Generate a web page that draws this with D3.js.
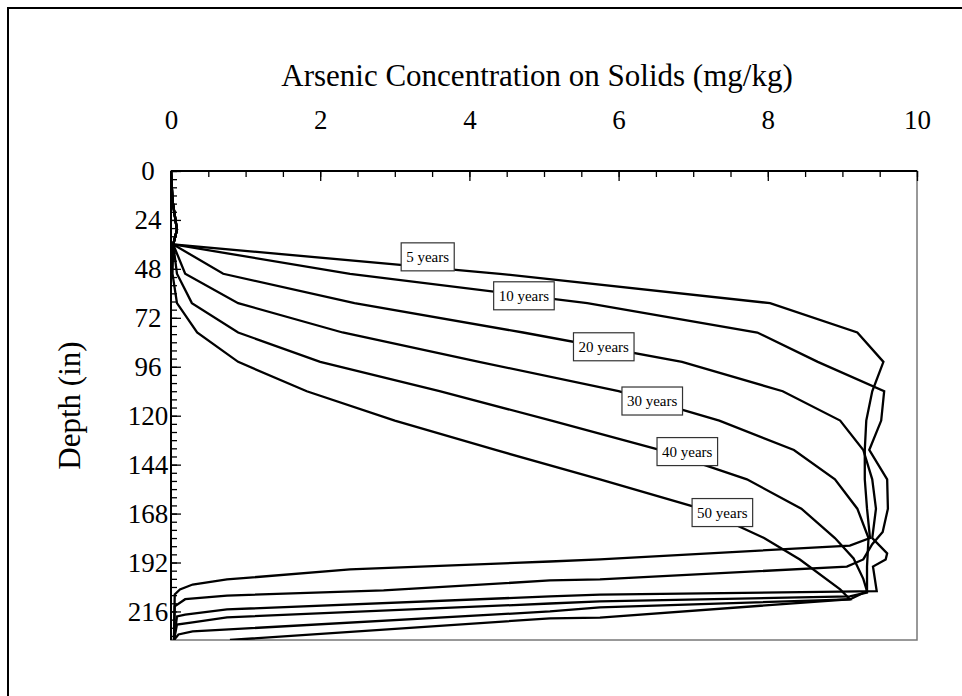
<!DOCTYPE html>
<html>
<head>
<meta charset="utf-8">
<script src="https://cdn.jsdelivr.net/npm/d3@7/dist/d3.min.js"></script>
<style>
body { margin: 0; background: #fff; }
svg { display: block; }
</style>
</head>
<body>
<div id="chart"></div>
<script>
// concentration (mg/kg) by depth (in), one array per simulated time
var xTicks = [0, 2, 4, 6, 8, 10];
var yTicks = [0, 24, 48, 72, 96, 120, 144, 168, 192, 216];
var seriesNames = ["5 years", "10 years", "20 years", "30 years", "40 years", "50 years"];

var yr5 = [[0,0],[0.02,14.4],[0.08,28.8],[0.03,36],[4.41,50.4],[8.03,64.8],[9.2,79.2],[9.55,93.6],
  [9.4,108],[9.32,122.4],[9.3,136.8],[9.3,151.2],[9.33,165.6],[9.37,180],[9.1,183.7],[5.75,190.5],
  [5.08,191.5],[2.4,195.4],[0.75,200.3],[0.29,202.8],[0.12,205.2],[0.05,207.7],[0.04,230]];
var yr10 = [[0,0],[0.02,14.4],[0.08,28.8],[0.03,36],[2.4,50.4],[5.58,64.8],[7.86,79.2],[8.67,93.6],
  [9.56,108],[9.52,122.4],[9.36,136.8],[9.6,151.2],[9.61,165.6],[9.54,177],[9.4,183],[9.28,190.5],
  [9.06,194],[5.75,200.3],[5.08,200.8],[2.85,205.7],[0.75,208.2],[0.19,210],[0.05,213.5],[0.04,230]];
var yr20 = [[0,0],[0.02,14.4],[0.08,28.8],[0.03,36],[0.7,50.4],[2.46,64.8],[4.72,79.2],[6.85,93.6],
  [8.2,108],[8.97,122.4],[9.28,136.8],[9.4,151.2],[9.45,165.6],[9.4,180],[9.6,187.5],[9.58,190.5],
  [9.41,194],[9.46,206],[8.97,206.3],[5.75,207.7],[5.08,208.6],[0.75,215],[0.19,217.5],[0.08,218.4],[0.04,230]];
var yr30 = [[0,0],[0.02,14.4],[0.08,28.8],[0.03,36],[0.19,50.4],[0.9,64.8],[2.3,79.2],[4.13,93.6],
  [6.0,108],[7.35,122.4],[8.35,136.8],[8.9,151.2],[9.2,165.6],[9.35,180],[9.33,194],[9.33,206.7],
  [9.1,208.6],[5.75,211.1],[5.08,212.1],[0.75,218.9],[0.29,221.4],[0.08,222.4],[0.04,230]];
var yr40 = [[0,0],[0.02,14.4],[0.08,28.8],[0.03,36],[0.08,50.4],[0.28,64.8],[0.9,79.2],[2.0,93.6],
  [3.6,108],[5.1,122.4],[6.55,136.8],[7.72,151.2],[8.45,165.6],[8.9,180],[9.15,190],[9.28,200],
  [9.33,206],[9.1,210.1],[5.75,214],[5.08,216],[0.29,225.8],[0.1,227.3],[0.04,230]];
var yr50 = [[0,0],[0.02,14.4],[0.08,28.8],[0.03,36],[0.02,50.4],[0.08,64.8],[0.35,79.2],[0.9,93.6],
  [1.82,108],[3.0,122.4],[4.35,136.8],[5.75,151.2],[7.1,165.6],[7.95,180],[8.43,190.5],[8.97,205.2],
  [9.1,210],[5.75,219],[5.08,219.4],[0.79,230]];

// where each curve's text box sits, in data units (conc, depth)
var labelAt = [[3.44,42.1],[4.73,61.2],[5.80,86.2],[6.45,112.8],[6.92,137.6],[7.39,167.5]];

var allSeries = [yr5, yr10, yr20, yr30, yr40, yr50];

var width = 962, height = 696;
var serif = "'Liberation Serif', 'Times New Roman', serif";

var svg = d3.select("#chart")
  .append("svg")
  .attr("width", width)
  .attr("height", height)
  .style("font-family", serif);

// chart border (right and bottom edges fall outside the picture)
svg.append("rect")
  .attr("x", 8).attr("y", 8)
  .attr("width", 1000).attr("height", 1000)
  .attr("fill", "none")
  .attr("stroke", "#000")
  .attr("stroke-width", 2);

var x = d3.scaleLinear().domain([0, 10]).range([171, 917]);
var y = d3.scaleLinear().domain([0, 230]).range([171, 640]);

// plot area frame
svg.append("rect")
  .attr("x", x(0)).attr("y", y(0))
  .attr("width", x(10) - x(0))
  .attr("height", y(230) - y(0))
  .attr("fill", "none")
  .attr("stroke", "#777")
  .attr("stroke-width", 1.5);

svg.append("clipPath").attr("id", "plotClip")
  .append("rect")
  .attr("x", x(0)).attr("y", y(0))
  .attr("width", x(10) - x(0))
  .attr("height", y(230) - y(0));

var line = d3.line()
  .x(function(d) { return x(d[0]); })
  .y(function(d) { return y(d[1]); });

svg.append("g")
  .attr("clip-path", "url(#plotClip)")
  .selectAll("path")
  .data(allSeries)
  .enter()
  .append("path")
  .attr("d", line)
  .attr("fill", "none")
  .attr("stroke", "#000")
  .attr("stroke-width", 2.3)
  .attr("stroke-linejoin", "miter");

// top axis: minor ticks every 0.5, major every 2, all pointing inward
svg.append("g")
  .attr("transform", "translate(0," + y(0) + ")")
  .call(d3.axisTop(x).tickValues(d3.range(0, 10.01, 0.5)).tickSize(-6).tickFormat(""))
  .call(function(g) { g.select(".domain").remove(); });

var xAxis = svg.append("g")
  .attr("transform", "translate(0," + y(0) + ")")
  .call(d3.axisTop(x).tickValues(xTicks).tickSize(-10).tickPadding(42).tickFormat(d3.format("d")));

// left axis: minor every 4 in, major every 24 in
svg.append("g")
  .attr("transform", "translate(" + x(0) + ",0)")
  .call(d3.axisLeft(y).tickValues(d3.range(0, 230, 4)).tickSize(-6).tickFormat(""))
  .call(function(g) { g.select(".domain").remove(); });

var yAxis = svg.append("g")
  .attr("transform", "translate(" + x(0) + ",0)")
  .call(d3.axisLeft(y).tickValues(yTicks).tickSize(-10).tickPadding(23).tickFormat(d3.format("d")));

svg.selectAll(".tick line").attr("stroke", "#000").attr("stroke-width", 1.3);

[xAxis, yAxis].forEach(function(g) {
  g.attr("font-family", null).attr("font-size", null);
  g.select(".domain")
    .attr("stroke", "#000")
    .attr("stroke-width", 2)
    .attr("d", g === xAxis
      ? "M" + x(0) + ",0H" + x(10)
      : "M0," + y(0) + "V" + y(230));
  g.selectAll("text")
    .attr("fill", "#000")
    .style("font-family", serif)
    .style("font-size", "27px");
});

// depth labels sit centred in the gutter
yAxis.selectAll("text").attr("text-anchor", "middle");

// axis titles
svg.append("text")
  .attr("x", (x(0) + x(10)) / 2 - 7)
  .attr("y", 86)
  .attr("text-anchor", "middle")
  .style("font-size", "31px")
  .text("Arsenic Concentration on Solids (mg/kg)");

svg.append("text")
  .attr("transform", "translate(80," + (y(0) + y(230)) / 2 + ") rotate(-90)")
  .attr("text-anchor", "middle")
  .style("font-size", "31px")
  .text("Depth (in)");

// curve labels in small boxes
var labels = svg.append("g")
  .selectAll("g")
  .data(seriesNames)
  .enter()
  .append("g")
  .attr("transform", function(d, i) {
    return "translate(" + x(labelAt[i][0]) + "," + y(labelAt[i][1]) + ")";
  });

labels.append("text")
  .attr("text-anchor", "middle")
  .attr("dy", "0.35em")
  .style("font-size", "15px")
  .text(function(d) { return d; });

labels.insert("rect", "text")
  .each(function() {
    var bb = this.parentNode.querySelector("text").getBBox();
    d3.select(this)
      .attr("x", bb.x - 5)
      .attr("y", -14)
      .attr("width", bb.width + 10)
      .attr("height", 28);
  })
  .attr("fill", "#fff")
  .attr("stroke", "#333")
  .attr("stroke-width", 1.2);
</script>
</body>
</html>
